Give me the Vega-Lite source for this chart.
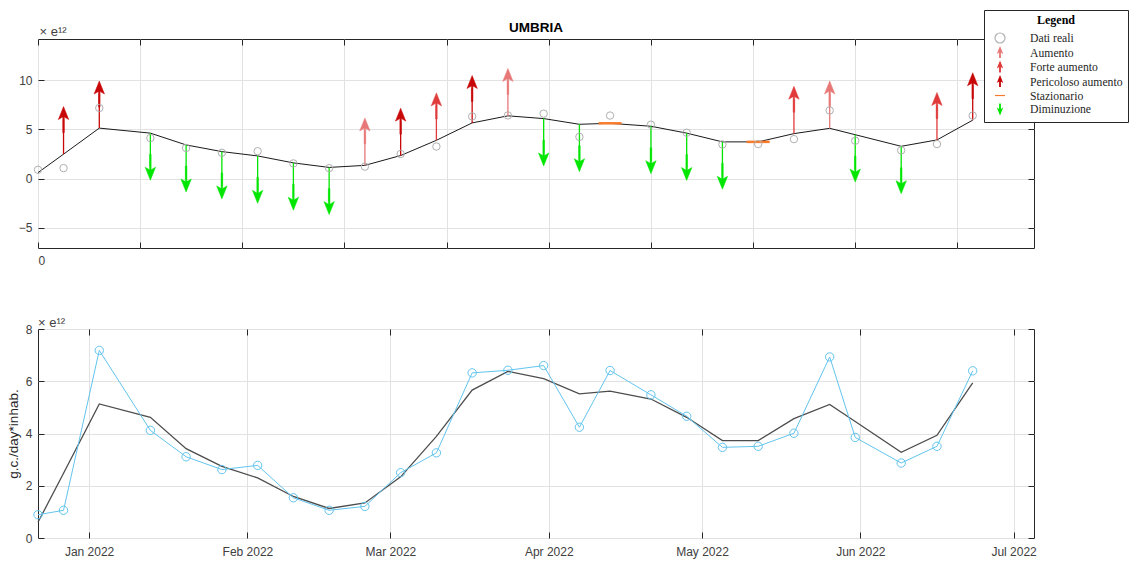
{
  "$schema": "https://vega.github.io/schema/vega-lite/v6.json",
  "padding": {"left": 5, "top": 9, "right": 2, "bottom": 2},
  "bounds": "flush",
  "spacing": 81,
  "config": {
    "font": "Liberation Sans",
    "view": {"stroke": "#262626", "strokeWidth": 1},
    "axis": {
      "domain": false,
      "tickColor": "#262626",
      "tickSize": -6,
      "tickWidth": 1,
      "gridColor": "#e2e2e2",
      "gridWidth": 1,
      "labelColor": "#404040",
      "labelFontSize": 12,
      "labelFont": "Liberation Sans",
      "titleFont": "Liberation Sans",
      "titleFontWeight": "normal",
      "titleColor": "#262626"
    }
  },
  "datasets": {
    "weeks": [
      {"date": "2021-12-22", "real": 0.89, "trend": 0.6, "cat": "Nessuno", "end": null},
      {"date": "2021-12-27", "real": 1.06, "trend": 2.48, "cat": "Pericoloso aumento", "end": 6.0},
      {"date": "2022-01-03", "real": 7.18, "trend": 5.13, "cat": "Pericoloso aumento", "end": 8.6},
      {"date": "2022-01-13", "real": 4.12, "trend": 4.62, "cat": "Diminuzione", "end": 1.15},
      {"date": "2022-01-20", "real": 3.11, "trend": 3.42, "cat": "Diminuzione", "end": -0.05},
      {"date": "2022-01-27", "real": 2.62, "trend": 2.74, "cat": "Diminuzione", "end": -0.75},
      {"date": "2022-02-03", "real": 2.78, "trend": 2.3, "cat": "Diminuzione", "end": -1.2},
      {"date": "2022-02-10", "real": 1.54, "trend": 1.59, "cat": "Diminuzione", "end": -1.9},
      {"date": "2022-02-17", "real": 1.06, "trend": 1.13, "cat": "Diminuzione", "end": -2.35},
      {"date": "2022-02-24", "real": 1.21, "trend": 1.34, "cat": "Aumento", "end": 4.84},
      {"date": "2022-03-03", "real": 2.5, "trend": 2.34, "cat": "Pericoloso aumento", "end": 5.84},
      {"date": "2022-03-10", "real": 3.26, "trend": 3.89, "cat": "Forte aumento", "end": 7.39},
      {"date": "2022-03-17", "real": 6.32, "trend": 5.66, "cat": "Pericoloso aumento", "end": 9.16},
      {"date": "2022-03-24", "real": 6.42, "trend": 6.38, "cat": "Aumento", "end": 9.88},
      {"date": "2022-03-31", "real": 6.6, "trend": 6.1, "cat": "Diminuzione", "end": 2.6},
      {"date": "2022-04-07", "real": 4.24, "trend": 5.52, "cat": "Diminuzione", "end": 2.02},
      {"date": "2022-04-13", "real": 6.41, "trend": 5.62, "cat": "Stazionario", "end": null},
      {"date": "2022-04-21", "real": 5.48, "trend": 5.32, "cat": "Diminuzione", "end": 1.82},
      {"date": "2022-04-28", "real": 4.66, "trend": 4.62, "cat": "Diminuzione", "end": 1.12},
      {"date": "2022-05-05", "real": 3.47, "trend": 3.73, "cat": "Diminuzione", "end": 0.23},
      {"date": "2022-05-12", "real": 3.51, "trend": 3.73, "cat": "Stazionario", "end": null},
      {"date": "2022-05-19", "real": 4.01, "trend": 4.57, "cat": "Forte aumento", "end": 8.07},
      {"date": "2022-05-26", "real": 6.93, "trend": 5.11, "cat": "Aumento", "end": 8.61},
      {"date": "2022-05-31", "real": 3.85, "trend": 4.46, "cat": "Diminuzione", "end": 0.96},
      {"date": "2022-06-09", "real": 2.87, "trend": 3.28, "cat": "Diminuzione", "end": -0.22},
      {"date": "2022-06-16", "real": 3.51, "trend": 3.93, "cat": "Forte aumento", "end": 7.43},
      {"date": "2022-06-23", "real": 6.4, "trend": 5.94, "cat": "Pericoloso aumento", "end": 9.44}
    ]
  },
  "vconcat": [
    {
      "width": 996,
      "height": 209,
      "data": {"name": "weeks"},
      "title": {"text": "UMBRIA", "fontSize": 13.5, "fontWeight": "bold", "color": "#000000", "offset": -9, "anchor": "middle", "frame": "group"},
      "resolve": {"axis": {"x": "independent", "y": "independent"}},
      "layer": [
        {
          "mark": {"type": "line", "color": "#1a1a1a", "strokeWidth": 1},
          "encoding": {
            "x": {
              "field": "date", "type": "temporal",
              "scale": {"type": "utc", "domain": [{"year": 2021, "month": 12, "date": 22, "utc": true}, {"year": 2022, "month": 7, "date": 5, "utc": true}]},
              "axis": {
                "orient": "bottom", "title": null, "grid": true, "labelPadding": 13,
                "values": [
                  {"year": 2021, "month": 12, "date": 22, "utc": true},
                  {"year": 2022, "month": 1, "date": 11, "utc": true},
                  {"year": 2022, "month": 1, "date": 31, "utc": true},
                  {"year": 2022, "month": 2, "date": 20, "utc": true},
                  {"year": 2022, "month": 3, "date": 12, "utc": true},
                  {"year": 2022, "month": 4, "date": 1, "utc": true},
                  {"year": 2022, "month": 4, "date": 21, "utc": true},
                  {"year": 2022, "month": 5, "date": 11, "utc": true},
                  {"year": 2022, "month": 5, "date": 31, "utc": true},
                  {"year": 2022, "month": 6, "date": 20, "utc": true}
                ],
                "labelExpr": "datum.index == 0 ? '0' : ''"
              }
            },
            "y": {
              "field": "trend", "type": "quantitative",
              "scale": {"domain": [-7.07, 14.2], "nice": false, "zero": false},
              "axis": {
                "orient": "left", "grid": true, "values": [-5, 0, 5, 10], "labelPadding": 12,
                "title": "×  e¹²", "titleAngle": 0, "titleAlign": "left", "titleBaseline": "alphabetic",
                "titleX": 1, "titleY": -4, "titleFontSize": 13, "titleColor": "#404040"
              }
            }
          }
        },
        {
          "transform": [{"filter": "datum.end != null"}],
          "mark": {"type": "rule", "strokeWidth": 1.3},
          "encoding": {
            "x": {"field": "date", "type": "temporal", "axis": null},
            "y": {"field": "trend", "type": "quantitative", "axis": null},
            "y2": {"field": "end"},
            "color": {
              "field": "cat", "type": "nominal", "legend": null,
              "scale": {"domain": ["Aumento", "Forte aumento", "Pericoloso aumento", "Diminuzione"], "range": ["#e87878", "#e03a3a", "#c80808", "#00e600"]}
            }
          }
        },
        {
          "transform": [{"filter": "datum.end != null"}],
          "mark": {"type": "point", "filled": true, "size": 676, "strokeWidth": 0.5, "opacity": 1},
          "encoding": {
            "x": {"field": "date", "type": "temporal", "axis": null},
            "y": {"field": "end", "type": "quantitative", "axis": null},
            "shape": {
              "field": "cat", "type": "nominal",
              "scale": {
                "domain": ["Dati reali", "Aumento", "Forte aumento", "Pericoloso aumento", "Stazionario", "Diminuzione"],
                "range": ["circle", "M0,-1L0.4,0L0.06,-0.2L0.06,1L-0.06,1L-0.06,-0.2L-0.4,0Z", "M0,-1L0.4,0L0.06,-0.2L0.06,1L-0.06,1L-0.06,-0.2L-0.4,0Z", "M0,-1L0.4,0L0.06,-0.2L0.06,1L-0.06,1L-0.06,-0.2L-0.4,0Z", "stroke", "M0,1L0.4,0L0.06,0.2L0.06,-1L-0.06,-1L-0.06,0.2L-0.4,0Z"]
              },
              "legend": {
                "title": "Legend", "orient": "none", "legendX": 946, "legendY": -29,
                "titleFont": "Liberation Serif", "titleFontSize": 12, "titleFontWeight": "bold", "titleColor": "#000000",
                "titleAnchor": "middle", "titlePadding": 5,
                "labelFont": "Liberation Serif", "labelFontSize": 11.7, "labelColor": "#262626", "labelOffset": 24,
                "symbolOffset": 5, "symbolStrokeWidth": 1.2,
                "strokeColor": "#262626", "fillColor": "#ffffff", "padding": 5, "rowPadding": -1.5
              }
            },
            "fill": {
              "field": "cat", "type": "nominal",
              "scale": {
                "domain": ["Dati reali", "Aumento", "Forte aumento", "Pericoloso aumento", "Stazionario", "Diminuzione"],
                "range": ["transparent", "#e87878", "#e03a3a", "#c80808", "transparent", "#00e600"]
              }
            },
            "stroke": {
              "field": "cat", "type": "nominal",
              "scale": {
                "domain": ["Dati reali", "Aumento", "Forte aumento", "Pericoloso aumento", "Stazionario", "Diminuzione"],
                "range": ["#b0b0b0", "#e87878", "#e03a3a", "#c80808", "#f77b2d", "#00e600"]
              }
            }
          }
        },
        {
          "transform": [{"filter": "datum.cat == 'Stazionario'"}],
          "mark": {"type": "point", "size": 529, "strokeWidth": 2.5, "opacity": 1},
          "encoding": {
            "x": {"field": "date", "type": "temporal", "axis": null},
            "y": {"field": "trend", "type": "quantitative", "axis": null},
            "shape": {"field": "cat", "type": "nominal"},
            "fill": {"field": "cat", "type": "nominal"},
            "stroke": {"field": "cat", "type": "nominal"}
          }
        },
        {
          "mark": {"type": "point", "size": 55, "strokeWidth": 1, "opacity": 1},
          "encoding": {
            "x": {
              "field": "date", "type": "temporal",
              "axis": {
                "orient": "top", "title": null, "grid": false, "labels": false,
                "values": [
                  {"year": 2021, "month": 12, "date": 22, "utc": true},
                  {"year": 2022, "month": 1, "date": 11, "utc": true},
                  {"year": 2022, "month": 1, "date": 31, "utc": true},
                  {"year": 2022, "month": 2, "date": 20, "utc": true},
                  {"year": 2022, "month": 3, "date": 12, "utc": true},
                  {"year": 2022, "month": 4, "date": 1, "utc": true},
                  {"year": 2022, "month": 4, "date": 21, "utc": true},
                  {"year": 2022, "month": 5, "date": 11, "utc": true},
                  {"year": 2022, "month": 5, "date": 31, "utc": true},
                  {"year": 2022, "month": 6, "date": 20, "utc": true}
                ]
              }
            },
            "y": {
              "field": "real", "type": "quantitative",
              "axis": {"orient": "right", "title": null, "grid": false, "labels": false, "values": [-5, 0, 5, 10]}
            },
            "shape": {"datum": "Dati reali", "type": "nominal"},
            "fill": {"datum": "Dati reali", "type": "nominal"},
            "stroke": {"datum": "Dati reali", "type": "nominal"}
          }
        }
      ]
    },
    {
      "width": 996,
      "height": 209,
      "data": {"name": "weeks"},
      "title": {"text": "×  e¹²", "anchor": "start", "frame": "group", "fontSize": 13, "fontWeight": "normal", "color": "#404040", "offset": -7},
      "resolve": {"axis": {"x": "independent", "y": "independent"}},
      "layer": [
        {
          "mark": {"type": "line", "color": "#4d4d4d", "strokeWidth": 1.3},
          "encoding": {
            "x": {
              "field": "date", "type": "temporal",
              "scale": {"type": "utc", "domain": [{"year": 2021, "month": 12, "date": 22, "utc": true}, {"year": 2022, "month": 7, "date": 5, "utc": true}]},
              "axis": {
                "orient": "bottom", "title": null, "grid": true, "labelPadding": 14, "format": "%b %Y",
                "values": [
                  {"year": 2022, "month": 1, "date": 1, "utc": true},
                  {"year": 2022, "month": 2, "date": 1, "utc": true},
                  {"year": 2022, "month": 3, "date": 1, "utc": true},
                  {"year": 2022, "month": 4, "date": 1, "utc": true},
                  {"year": 2022, "month": 5, "date": 1, "utc": true},
                  {"year": 2022, "month": 6, "date": 1, "utc": true},
                  {"year": 2022, "month": 7, "date": 1, "utc": true}
                ]
              }
            },
            "y": {
              "field": "trend", "type": "quantitative",
              "scale": {"domain": [0, 8], "nice": false},
              "axis": {"orient": "left", "grid": true, "values": [0, 2, 4, 6, 8], "labelPadding": 12, "title": "g.c./day*inhab.", "titleFontSize": 13.5, "titlePadding": 5}
            }
          }
        },
        {
          "mark": {"type": "line", "color": "#62c4ee", "strokeWidth": 1},
          "encoding": {
            "x": {
              "field": "date", "type": "temporal",
              "axis": {
                "orient": "top", "title": null, "grid": false, "labels": false,
                "values": [
                  {"year": 2022, "month": 1, "date": 1, "utc": true},
                  {"year": 2022, "month": 2, "date": 1, "utc": true},
                  {"year": 2022, "month": 3, "date": 1, "utc": true},
                  {"year": 2022, "month": 4, "date": 1, "utc": true},
                  {"year": 2022, "month": 5, "date": 1, "utc": true},
                  {"year": 2022, "month": 6, "date": 1, "utc": true},
                  {"year": 2022, "month": 7, "date": 1, "utc": true}
                ]
              }
            },
            "y": {
              "field": "real", "type": "quantitative",
              "axis": {"orient": "right", "title": null, "grid": false, "labels": false, "values": [0, 2, 4, 6, 8]}
            }
          }
        },
        {
          "mark": {"type": "point", "filled": false, "color": "#62c4ee", "size": 70, "strokeWidth": 1, "opacity": 1},
          "encoding": {
            "x": {"field": "date", "type": "temporal", "axis": null},
            "y": {"field": "real", "type": "quantitative", "axis": null}
          }
        }
      ]
    }
  ]
}
